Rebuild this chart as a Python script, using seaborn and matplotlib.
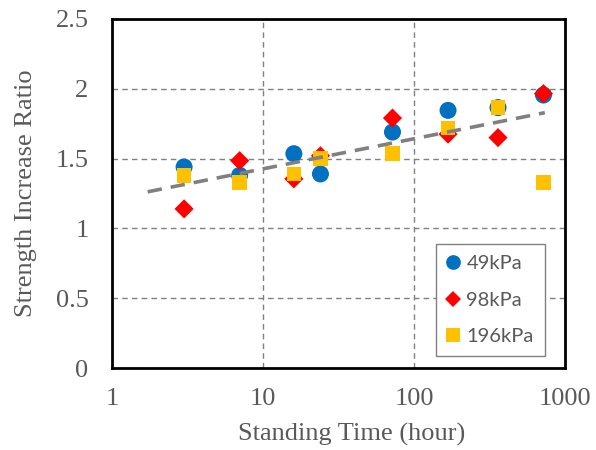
import numpy as np
import pandas as pd
import matplotlib
matplotlib.use("Agg")
import matplotlib.pyplot as plt
import seaborn as sns
from matplotlib.ticker import FixedLocator, FixedFormatter, NullLocator
from matplotlib.lines import Line2D

# ---- data ----
hours = [3, 7, 16, 24, 72, 168, 360, 720]
ratio_49 = [1.44, 1.38, 1.535, 1.39, 1.69, 1.845, 1.865, 1.955]
ratio_98 = [1.14, 1.485, 1.355, 1.52, 1.79, 1.675, 1.65, 1.965]
ratio_196 = [1.38, 1.33, 1.39, 1.50, 1.535, 1.72, 1.865, 1.33]
series_labels = ["49kPa", "98kPa", "196kPa"]
x_ticks = [1, 10, 100, 1000]
x_ticklabels = ["1", "10", "100", "1000"]
y_ticks = [0, 0.5, 1, 1.5, 2, 2.5]
y_ticklabels = ["0", "0.5", "1", "1.5", "2", "2.5"]
trend_span = [1.72, 735]

sns.set_theme(style="white")
plt.rcParams["font.family"] = ["Liberation Serif", "DejaVu Serif"]

df = pd.DataFrame({
    "hours": hours * 3,
    "ratio": ratio_49 + ratio_98 + ratio_196,
    "load": [series_labels[0]] * 8 + [series_labels[1]] * 8 + [series_labels[2]] * 8,
})

fig = plt.figure(figsize=(5.96, 4.5), dpi=100)
ax = fig.add_axes([0.188, 0.182, 0.760, 0.776])

colors = {"49kPa": "#0070C0", "98kPa": "#FF0000", "196kPa": "#FFC000"}
markers = {"49kPa": "o", "98kPa": "D", "196kPa": "s"}
sizes = {"49kPa": 150, "98kPa": 95, "196kPa": 112}

for lab in series_labels:
    sub = df[df["load"] == lab]
    sns.scatterplot(data=sub, x="hours", y="ratio", ax=ax, color=colors[lab],
                    marker=markers[lab], s=sizes[lab], edgecolor="none",
                    linewidth=0, zorder=3, legend=False)

# logarithmic trendline fitted to all data
coef = np.polyfit(np.log10(df["hours"]), df["ratio"], 1)
tx = np.logspace(np.log10(trend_span[0]), np.log10(trend_span[1]), 50)
sns.lineplot(x=tx, y=np.polyval(coef, np.log10(tx)), ax=ax, color="#808080",
             linewidth=2.6, linestyle=(0, (4, 2.5)), zorder=4)

ax.set_xscale("log")
ax.set_xlim(1, 1000)
ax.set_ylim(0, 2.5)
ax.xaxis.set_major_locator(FixedLocator(x_ticks))
ax.xaxis.set_major_formatter(FixedFormatter(x_ticklabels))
ax.xaxis.set_minor_locator(NullLocator())
ax.set_yticks(y_ticks)
ax.set_yticklabels(y_ticklabels)

ax.grid(True, which="major", color="#808080", linestyle=(0, (4, 3)), linewidth=1.0)
ax.set_axisbelow(True)
for sp in ax.spines.values():
    sp.set_color("black")
    sp.set_linewidth(2.0)

ax.tick_params(axis="both", which="both", length=0, labelsize=19, colors="#595959")
ax.tick_params(axis="x", pad=14.5)
ax.tick_params(axis="y", pad=17)
ax.set_xlabel("Standing Time (hour)", fontsize=19, color="#595959")
ax.xaxis.set_label_coords(0.53, -0.158)
ax.set_ylabel("Strength Increase Ratio", fontsize=19, color="#595959", labelpad=13)

handles = [Line2D([], [], linestyle="none", marker=markers[l], color=colors[l],
                  markersize={"49kPa": 10.6, "98kPa": 8.6, "196kPa": 10}[l], markeredgewidth=0)
           for l in series_labels]
leg = ax.legend(handles, series_labels, loc="lower right", bbox_to_anchor=(0.955, 0.035),
                frameon=True, fancybox=False, edgecolor="#808080", framealpha=1,
                prop={"family": "Lato", "size": 14.5}, labelcolor="#595959",
                handlelength=0.6, handletextpad=0.35, labelspacing=0.95,
                borderpad=0.55, borderaxespad=0)
leg.get_frame().set_linewidth(1.0)

fig.savefig("out.png", dpi=100)
